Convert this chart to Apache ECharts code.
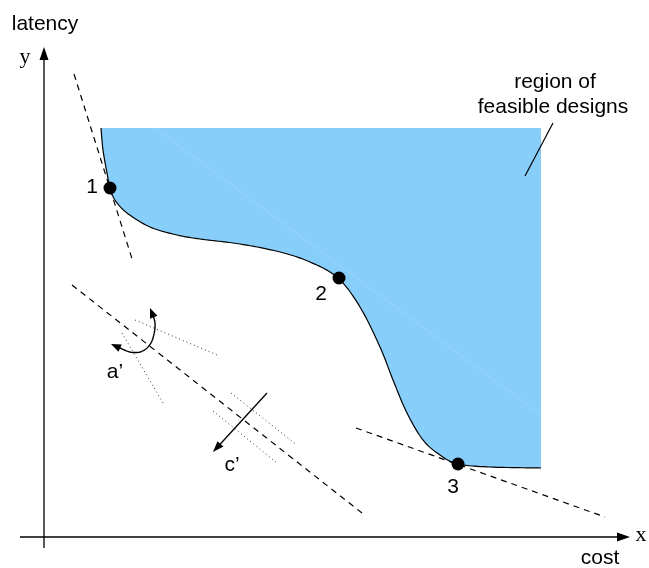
<!DOCTYPE html>
<html><head><meta charset="utf-8">
<script src="https://cdn.jsdelivr.net/npm/echarts@6/dist/echarts.min.js"></script>
<style>html,body{margin:0;padding:0;background:#fff}#c{width:649px;height:568px}</style>
</head><body><div id="c"></div>
<script>
// boundary of the region of feasible designs (diagram units = picture units, y downward)
const curveX = [101,103,107,110,115,127,150,177,200,240,280,310,338,360,380,393,407,423,440,458,490,541];
const curveY = [128,150,173,188,200,213,227,235,239,244,252,262,278,307,347,380,413,440,455,464,467,468];
const regionTop = 128, regionRight = 541;
const sheenLine = [[155,128,541,415]];
// dashed tangent / objective lines: x1,y1,x2,y2
const dashedLines = [[74,74,133,262],[72,285,362,513],[356,428,605,517]];
// dotted rotated / shifted lines
const dottedLines = [[135,320,217,355],[122,333,163,403],[231,393,297,445],[213,411,277,463]];
// solid leader line
const solidLines = [[553,123,525,176]];
// arrows: tail x,y -> tip x,y
const axisArrows = [[44,548,44,47],[20,537,630,537]];
const shiftArrows = [[267,393,213,452]];
// rotation arc a'
const arcX = [150,155,153,148,140,130,120,111];
const arcY = [308,323,338,347,352,352,348,344];
// design points
const pointX = [110,339,458];
const pointY = [188,278,464];
// texts
const captionText = ['latency','cost','region of','feasible designs','1','2','3','a\u2019','c\u2019'];
const captionX = [45,600,555,553,92,321,453,115,232];
const captionY = [24,558,82,107,187,294,487,372,465];
const letterText = ['y','x'];
const letterX = [25,641];
const letterY = [57,535];

function catmull(pts, n) {
  const out = [];
  for (let i = 0; i < pts.length - 1; i++) {
    const p0 = pts[Math.max(i-1,0)], p1 = pts[i], p2 = pts[i+1], p3 = pts[Math.min(i+2,pts.length-1)];
    for (let k = 0; k < n; k++) {
      const t = k / n, t2 = t*t, t3 = t2*t;
      const f = j => 0.5*((2*p1[j]) + (-p0[j]+p2[j])*t + (2*p0[j]-5*p1[j]+4*p2[j]-p3[j])*t2 + (-p0[j]+3*p1[j]-3*p2[j]+p3[j])*t3);
      out.push([f(0), f(1)]);
    }
  }
  out.push(pts[pts.length-1]);
  return out;
}
function head(tip, from, len, hw) {
  let dx = tip[0]-from[0], dy = tip[1]-from[1];
  const L = Math.hypot(dx,dy) || 1; dx/=L; dy/=L;
  const bx = tip[0]-dx*len, by = tip[1]-dy*len;
  return {type:'polygon', shape:{points:[tip,[bx-dy*hw, by+dx*hw],[bx+dy*hw, by-dx*hw]]}, style:{fill:'#000'}};
}
function segItem(dash, color, width) {
  return function(params, api) {
    const a = api.coord([api.value(0), api.value(1)]);
    const b = api.coord([api.value(2), api.value(3)]);
    return {type:'line', shape:{x1:a[0],y1:a[1],x2:b[0],y2:b[1]}, style:{stroke:color, lineWidth:width, lineDash:dash}};
  };
}
function arrowItem(len, hw) {
  return function(params, api) {
    const a = api.coord([api.value(0), api.value(1)]);
    const b = api.coord([api.value(2), api.value(3)]);
    let dx=b[0]-a[0], dy=b[1]-a[1]; const L=Math.hypot(dx,dy); dx/=L; dy/=L;
    return {type:'group', children:[
      {type:'line', shape:{x1:a[0],y1:a[1],x2:b[0]-dx*len*0.8,y2:b[1]-dy*len*0.8}, style:{stroke:'#000', lineWidth:1.3}},
      head(b, a, len, hw)
    ]};
  };
}
function textItem(font) {
  return function(params, api) {
    const p = api.coord([api.value(0), api.value(1)]);
    return {type:'text', style:{text: api.value(2), x:p[0], y:p[1], font:font, fill:'#000', align:'center', verticalAlign:'middle'}};
  };
}

const chart = echarts.init(document.getElementById('c'), null, {renderer:'canvas'});
chart.setOption({
  animation: false,
  grid: {left:0, right:0, top:0, bottom:0},
  xAxis: {type:'value', min:0, max:649, show:false},
  yAxis: {type:'value', min:0, max:568, inverse:true, show:false},
  series: [
    {type:'custom', data:[[0,0]], z:1, renderItem: function(params, api) {
      const pts = curveX.map((x,i)=>api.coord([x, curveY[i]]));
      const sm = catmull(pts, 12);
      const poly = sm.concat([api.coord([regionRight, regionTop])]);
      const s0 = api.coord([sheenLine[0][0], sheenLine[0][1]]), s1 = api.coord([sheenLine[0][2], sheenLine[0][3]]);
      return {type:'group', children:[
        {type:'polygon', shape:{points:poly}, style:{fill:'#87CEFA'}},
        {type:'line', shape:{x1:s0[0],y1:s0[1],x2:s1[0],y2:s1[1]}, style:{stroke:'#9fd8fb', lineWidth:0.8}},
        {type:'polyline', shape:{points:sm}, style:{stroke:'#000', lineWidth:1.2, fill:null}}
      ]};
    }},
    {type:'custom', data:dashedLines, z:2, renderItem: segItem([6,5], '#000', 1.2)},
    {type:'custom', data:dottedLines, z:2, renderItem: segItem([1,3], '#333', 1)},
    {type:'custom', data:solidLines, z:2, renderItem: segItem(null, '#000', 1.2)},
    {type:'custom', data:axisArrows, z:3, renderItem: arrowItem(13, 4.5)},
    {type:'custom', data:shiftArrows, z:3, renderItem: arrowItem(11, 4)},
    {type:'custom', data:[[0,0]], z:3, renderItem: function(params, api) {
      const pts = arcX.map((x,i)=>api.coord([x, arcY[i]]));
      const sm = catmull(pts, 10);
      const n = sm.length;
      return {type:'group', children:[
        {type:'polyline', shape:{points:sm.slice(3, n-3)}, style:{stroke:'#000', lineWidth:1.4, fill:null}},
        head(sm[0], sm[4], 10, 4),
        head(sm[n-1], sm[n-5], 10, 4)
      ]};
    }},
    {type:'scatter', data:pointX.map((x,i)=>[x, pointY[i]]), symbol:'circle', symbolSize:13, itemStyle:{color:'#000', opacity:1}, z:4, silent:true},
    {type:'custom', data:captionText.map((t,i)=>[captionX[i], captionY[i], t]), z:5, dimensions:['x','y',{name:'t',type:'ordinal'}], renderItem: textItem('21px "Liberation Sans", Arial, sans-serif')},
    {type:'custom', data:letterText.map((t,i)=>[letterX[i], letterY[i], t]), z:5, dimensions:['x','y',{name:'t',type:'ordinal'}], renderItem: textItem('22px "Liberation Serif", "Times New Roman", serif')}
  ]
});
</script></body></html>
